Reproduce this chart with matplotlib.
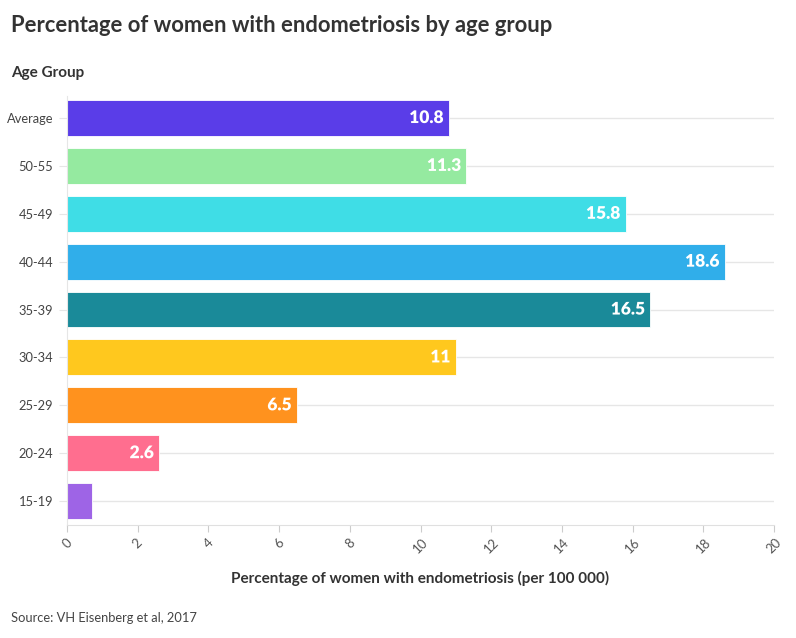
import matplotlib.pyplot as plt
import matplotlib.patheffects as pe

# data, bottom to top
age_groups = ["15-19", "20-24", "25-29", "30-34", "35-39", "40-44", "45-49", "50-55", "Average"]
values = [0.7, 2.6, 6.5, 11, 16.5, 18.6, 15.8, 11.3, 10.8]
value_labels = ["", "2.6", "6.5", "11", "16.5", "18.6", "15.8", "11.3", "10.8"]
bar_colors = ["#9e64e6", "#ff6e8f", "#ff921e", "#ffc81e", "#1a8a99",
              "#30aeea", "#3fdde6", "#95eaa0", "#5a3de8"]
x_ticks = [0, 2, 4, 6, 8, 10, 12, 14, 16, 18, 20]

plt.rcParams["font.family"] = ["Lato", "DejaVu Sans"]

fig = plt.figure(figsize=(7.96, 6.38), dpi=100)
ax = fig.add_axes([67 / 796, 1 - 525 / 638, 707 / 796, 429 / 638])

ypos = list(range(len(age_groups)))
bars = ax.barh(ypos, values, height=0.75, color=bar_colors, zorder=2)
for b in bars:
    b.set_edgecolor("white")
    b.set_linewidth(0.6)

for y, v, lab, c in zip(ypos, values, value_labels, bar_colors):
    if lab:
        ax.text(v - 0.15, y, lab, ha="right", va="center", color="white",
                fontsize=12.5, fontweight="heavy", zorder=3,
                path_effects=[pe.withStroke(linewidth=2.5, foreground=c)])

ax.set_xlim(0, 20)
ax.set_ylim(-0.5, 8.46)
ax.set_yticks(ypos)
ax.set_yticklabels(age_groups, fontsize=9.3, color="#444444")
ax.set_xticks(x_ticks)
ax.set_xticklabels([str(t) for t in x_ticks], rotation=45, ha="center",
                   fontsize=9.5, color="#555555")

ax.grid(axis="y", color="#e6e6e6", linewidth=1, zorder=0)
ax.grid(axis="x", visible=False)
for s in ["top", "right"]:
    ax.spines[s].set_visible(False)
ax.spines["left"].set_color("#e6e6e6")
ax.spines["bottom"].set_color("#e0e0e0")
ax.tick_params(axis="y", length=6, color="#e6e6e6", pad=4)
ax.tick_params(axis="x", length=5, color="#cccccc", pad=3)

fig.text(11 / 796, 1 - 25 / 638, "Percentage of women with endometriosis by age group",
         fontsize=15.8, fontweight="bold", color="#333333", va="center", ha="left")
fig.text(11 / 796, 1 - 73 / 638, "Age Group", fontsize=11, fontweight="bold",
         color="#333333", va="center", ha="left")
fig.text((67 + 774) / 2 / 796, 1 - 578 / 638,
         "Percentage of women with endometriosis (per 100 000)",
         fontsize=11, fontweight="bold", color="#333333", va="center", ha="center")
fig.text(11 / 796, 1 - 618 / 638, "Source: VH Eisenberg et al, 2017",
         fontsize=9.3, color="#444444", va="center", ha="left")

fig.savefig("out.png", dpi=100)
